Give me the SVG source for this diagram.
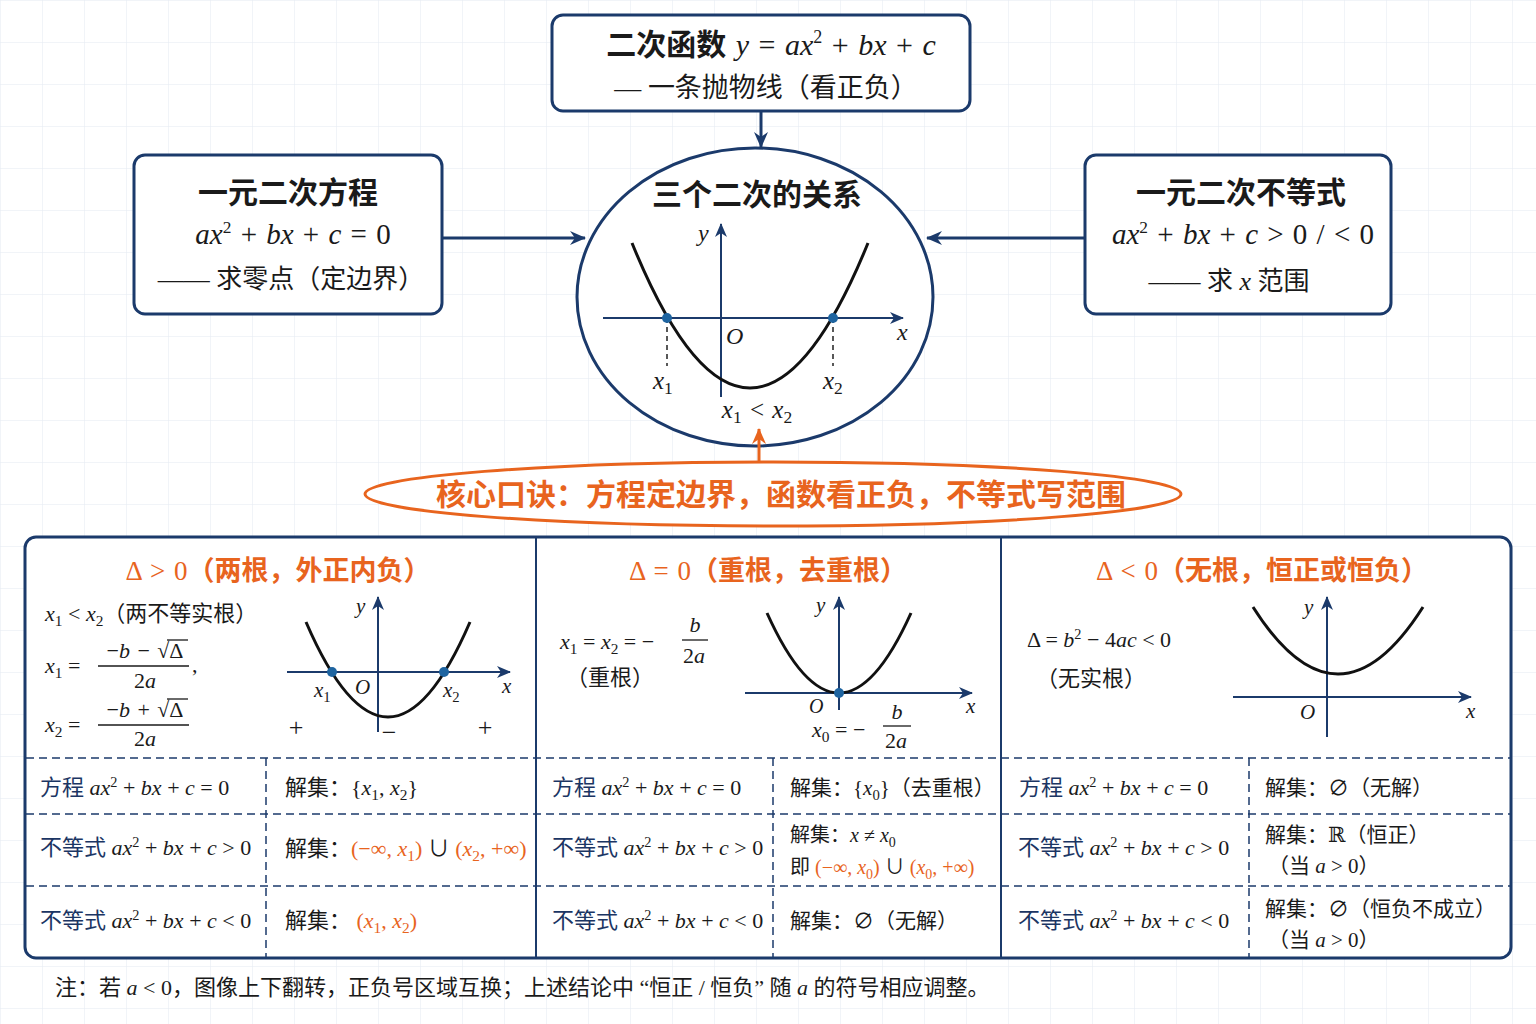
<svg xmlns="http://www.w3.org/2000/svg" width="1536" height="1024" viewBox="0 0 1536 1024">
<defs>
<pattern id="grid" width="42" height="42" patternUnits="userSpaceOnUse"><path d="M42 0 L0 0 0 42" fill="none" stroke="#e4e9f1" stroke-width="1"/></pattern>
<marker id="ah" viewBox="0 0 16 14" refX="15" refY="7" markerWidth="16" markerHeight="14" markerUnits="userSpaceOnUse" orient="auto"><path d="M0,0 L16,7 L0,14 L5,7 z" fill="#1b3a6b"/></marker>
<marker id="aho" viewBox="0 0 16 14" refX="15" refY="7" markerWidth="16" markerHeight="14" markerUnits="userSpaceOnUse" orient="auto"><path d="M0,0 L16,7 L0,14 L5,7 z" fill="#e8641e"/></marker>
<marker id="ax" viewBox="0 0 14 12" refX="13" refY="6" markerWidth="14" markerHeight="12" markerUnits="userSpaceOnUse" orient="auto"><path d="M0,0 L14,6 L0,12 L4,6 z" fill="#1b3a6b"/></marker>
</defs>
<style>
.t{font-family:"Liberation Serif","Noto Sans CJK SC","DejaVu Serif",serif;fill:#1a1a1a}
.i{font-style:italic}
.b{font-weight:bold}
.o{fill:#e8641e}
.k{fill:#1a1a1a}
.nv{fill:#1b3563}
.box{fill:#ffffff;stroke:#1b3a6b;stroke-width:3}
.conn{stroke:#1b3a6b;stroke-width:3;fill:none}
.axis{stroke:#1b3a6b;stroke-width:2;fill:none}
.curve{stroke:#111111;stroke-width:3;fill:none}
.dash{stroke:#1b3a6b;stroke-width:1.5;stroke-dasharray:8 5;fill:none}
.vd{stroke:#222;stroke-width:1.5;stroke-dasharray:5 4;fill:none}
.dot{fill:#1e64a0}
.mid{text-anchor:middle}
.w{word-spacing:2px}
</style>
<rect width="1536" height="1024" fill="#ffffff"/>
<rect width="1536" height="1024" fill="url(#grid)"/>

<g id="node-function">
<rect class="box" x="552" y="15" width="418" height="96" rx="11"/>
<text class="t mid w" x="771" y="55" font-size="30"><tspan class="b">二次函数</tspan>  <tspan class="i">y</tspan> = <tspan class="i">ax</tspan><tspan font-size="60%" dy="-12">2</tspan><tspan dy="12"> + </tspan><tspan class="i">bx</tspan> + <tspan class="i">c</tspan></text>
<text class="t mid" x="766" y="97" font-size="27">— 一条抛物线（看正负）</text>
</g>

<g id="node-equation">
<rect class="box" x="134" y="155" width="308" height="159" rx="11"/>
<text class="t mid b" x="288" y="203" font-size="30">一元二次方程</text>
<text class="t mid w" x="293" y="244" font-size="29"><tspan class="i">ax</tspan><tspan font-size="60%" dy="-11">2</tspan><tspan dy="11"> + </tspan><tspan class="i">bx</tspan> + <tspan class="i">c</tspan> = 0</text>
<text class="t mid" x="291" y="288" font-size="26">—— 求零点（定边界）</text>
</g>

<g id="node-inequality">
<rect class="box" x="1085" y="155" width="306" height="159" rx="11"/>
<text class="t mid b" x="1241" y="203" font-size="30">一元二次不等式</text>
<text class="t mid w" x="1243" y="244" font-size="29"><tspan class="i">ax</tspan><tspan font-size="60%" dy="-11">2</tspan><tspan dy="11"> + </tspan><tspan class="i">bx</tspan> + <tspan class="i">c</tspan> &gt; 0 / &lt; 0</text>
<text class="t mid" x="1229" y="290" font-size="26">—— 求 <tspan class="i">x</tspan> 范围</text>
</g>

<g id="node-relation">
<ellipse class="box" cx="755" cy="297" rx="178" ry="149"/>
<text class="t mid b" x="757" y="205" font-size="30">三个二次的关系</text>
<line class="axis" x1="603" y1="318" x2="903" y2="318" marker-end="url(#ax)"/>
<line class="axis" x1="721" y1="397" x2="721" y2="224" marker-end="url(#ax)"/>
<path class="curve" d="M632,243 Q750,533 868,243"/>
<line class="vd" x1="667" y1="318" x2="667" y2="366"/>
<line class="vd" x1="833" y1="318" x2="833" y2="366"/>
<circle class="dot" cx="667" cy="318" r="5"/>
<circle class="dot" cx="833" cy="318" r="5"/>
<text class="t i" x="698" y="241" font-size="24">y</text>
<text class="t i" x="726" y="344" font-size="24">O</text>
<text class="t i" x="897" y="340" font-size="24">x</text>
<text class="t" x="653" y="389" font-size="25"><tspan class="i">x</tspan><tspan font-size="70%" dy="5">1</tspan></text>
<text class="t" x="823" y="389" font-size="25"><tspan class="i">x</tspan><tspan font-size="70%" dy="5">2</tspan></text>
<text class="t mid w" x="757" y="418" font-size="25"><tspan class="i">x</tspan><tspan font-size="70%" dy="5">1</tspan><tspan dy="-5"> &lt; </tspan><tspan class="i">x</tspan><tspan font-size="70%" dy="5">2</tspan></text>
</g>

<g id="node-motto">
<ellipse cx="773" cy="494" rx="408" ry="32" fill="#ffffff" stroke="#e8641e" stroke-width="3"/>
<text class="t mid b o" x="781" y="505" font-size="30">核心口诀：方程定边界，函数看正负，不等式写范围</text>
</g>

<g id="node-table">
<rect class="box" x="25" y="537" width="1486" height="421" rx="11"/>
<line x1="536" y1="537" x2="536" y2="958" stroke="#1b3a6b" stroke-width="2"/>
<line x1="1001" y1="537" x2="1001" y2="958" stroke="#1b3a6b" stroke-width="2"/>
<line class="dash" x1="26" y1="758" x2="1510" y2="758"/>
<line class="dash" x1="26" y1="814" x2="1510" y2="814"/>
<line class="dash" x1="26" y1="886" x2="1510" y2="886"/>
<line class="dash" x1="266" y1="758" x2="266" y2="957"/>
<line class="dash" x1="773" y1="758" x2="773" y2="957"/>
<line class="dash" x1="1249" y1="758" x2="1249" y2="957"/>
</g>

<g id="node-case-positive">
<text class="t mid o w" x="278" y="580" font-size="27">Δ &gt; 0<tspan class="b">（两根，外正内负）</tspan></text>
<text class="t" x="45" y="621" font-size="22"><tspan class="i">x</tspan><tspan font-size="70%" dy="5">1</tspan><tspan dy="-5"> &lt; </tspan><tspan class="i">x</tspan><tspan font-size="70%" dy="5">2</tspan><tspan dy="-5">（两不等实根）</tspan></text>
<text class="t" x="45" y="673" font-size="22"><tspan class="i">x</tspan><tspan font-size="70%" dy="5">1</tspan><tspan dy="-5"> =</tspan></text>
<text class="t mid w" x="145" y="658" font-size="22">−<tspan class="i">b</tspan> − √Δ</text>
<line x1="167" y1="640" x2="188" y2="640" stroke="#1a1a1a" stroke-width="1.3"/>
<line x1="98" y1="666" x2="189" y2="666" stroke="#1a1a1a" stroke-width="1.3"/>
<text class="t mid" x="145" y="688" font-size="22">2<tspan class="i">a</tspan></text>
<text class="t" x="192" y="672" font-size="22">,</text>
<text class="t" x="45" y="732" font-size="22"><tspan class="i">x</tspan><tspan font-size="70%" dy="5">2</tspan><tspan dy="-5"> =</tspan></text>
<text class="t mid w" x="145" y="717" font-size="22">−<tspan class="i">b</tspan> + √Δ</text>
<line x1="167" y1="699" x2="188" y2="699" stroke="#1a1a1a" stroke-width="1.3"/>
<line x1="98" y1="725" x2="189" y2="725" stroke="#1a1a1a" stroke-width="1.3"/>
<text class="t mid" x="145" y="746" font-size="22">2<tspan class="i">a</tspan></text>
<line class="axis" x1="287" y1="672" x2="510" y2="672" marker-end="url(#ax)"/>
<line class="axis" x1="378" y1="732" x2="378" y2="597" marker-end="url(#ax)"/>
<path class="curve" d="M306,622 Q388,812 470,622"/>
<circle class="dot" cx="332" cy="672" r="5"/>
<circle class="dot" cx="444" cy="672" r="5"/>
<text class="t i" x="356" y="613" font-size="21">y</text>
<text class="t i" x="502" y="693" font-size="21">x</text>
<text class="t i" x="355" y="694" font-size="21">O</text>
<text class="t" x="314" y="697" font-size="21"><tspan class="i">x</tspan><tspan font-size="70%" dy="5">1</tspan></text>
<text class="t" x="443" y="697" font-size="21"><tspan class="i">x</tspan><tspan font-size="70%" dy="5">2</tspan></text>
<text class="t mid" x="296" y="736" font-size="26">+</text>
<text class="t mid" x="389" y="741" font-size="26">−</text>
<text class="t mid" x="485" y="736" font-size="26">+</text>
<text class="t" x="40" y="795" font-size="22"><tspan class="nv">方程</tspan> <tspan class="i">ax</tspan><tspan font-size="65%" dy="-8">2</tspan><tspan dy="8"> + </tspan><tspan class="i">bx</tspan> + <tspan class="i">c</tspan> = 0</text>
<text class="t" x="285" y="795" font-size="22">解集：{<tspan class="i">x</tspan><tspan font-size="70%" dy="5">1</tspan><tspan dy="-5">, </tspan><tspan class="i">x</tspan><tspan font-size="70%" dy="5">2</tspan><tspan dy="-5">}</tspan></text>
<text class="t" x="40" y="855" font-size="22"><tspan class="nv">不等式</tspan> <tspan class="i">ax</tspan><tspan font-size="65%" dy="-8">2</tspan><tspan dy="8"> + </tspan><tspan class="i">bx</tspan> + <tspan class="i">c</tspan> &gt; 0</text>
<text class="t" x="285" y="856" font-size="22">解集：<tspan class="o">(−∞, <tspan class="i">x</tspan><tspan font-size="70%" dy="5">1</tspan><tspan dy="-5">)</tspan></tspan><tspan class="k"> ∪ </tspan><tspan class="o">(<tspan class="i">x</tspan><tspan font-size="70%" dy="5">2</tspan><tspan dy="-5">, +∞)</tspan></tspan></text>
<text class="t" x="40" y="928" font-size="22"><tspan class="nv">不等式</tspan> <tspan class="i">ax</tspan><tspan font-size="65%" dy="-8">2</tspan><tspan dy="8"> + </tspan><tspan class="i">bx</tspan> + <tspan class="i">c</tspan> &lt; 0</text>
<text class="t" x="285" y="928" font-size="22">解集： <tspan class="o">(<tspan class="i">x</tspan><tspan font-size="70%" dy="5">1</tspan><tspan dy="-5">, </tspan><tspan class="i">x</tspan><tspan font-size="70%" dy="5">2</tspan><tspan dy="-5">)</tspan></tspan></text>
</g>

<g id="node-case-zero">
<text class="t mid o w" x="768" y="580" font-size="27">Δ = 0<tspan class="b">（重根，去重根）</tspan></text>
<text class="t" x="560" y="649" font-size="22"><tspan class="i">x</tspan><tspan font-size="70%" dy="5">1</tspan><tspan dy="-5"> = </tspan><tspan class="i">x</tspan><tspan font-size="70%" dy="5">2</tspan><tspan dy="-5"> = −</tspan></text>
<text class="t mid i" x="695" y="632" font-size="22">b</text>
<line x1="682" y1="640" x2="708" y2="640" stroke="#1a1a1a" stroke-width="1.3"/>
<text class="t mid" x="694" y="663" font-size="22">2<tspan class="i">a</tspan></text>
<text class="t" x="566" y="685" font-size="22">（重根）</text>
<line class="axis" x1="745" y1="693" x2="972" y2="693" marker-end="url(#ax)"/>
<line class="axis" x1="839" y1="710" x2="839" y2="597" marker-end="url(#ax)"/>
<path class="curve" d="M767,613 Q839,773 911,613"/>
<circle class="dot" cx="839" cy="693" r="5"/>
<text class="t i" x="816" y="612" font-size="21">y</text>
<text class="t i" x="809" y="713" font-size="20">O</text>
<text class="t i" x="966" y="713" font-size="21">x</text>
<text class="t" x="812" y="737" font-size="22"><tspan class="i">x</tspan><tspan font-size="70%" dy="5">0</tspan><tspan dy="-5"> = −</tspan></text>
<text class="t mid i" x="897" y="719" font-size="22">b</text>
<line x1="883" y1="726" x2="911" y2="726" stroke="#1a1a1a" stroke-width="1.3"/>
<text class="t mid" x="896" y="748" font-size="22">2<tspan class="i">a</tspan></text>
<text class="t" x="552" y="795" font-size="22"><tspan class="nv">方程</tspan> <tspan class="i">ax</tspan><tspan font-size="65%" dy="-8">2</tspan><tspan dy="8"> + </tspan><tspan class="i">bx</tspan> + <tspan class="i">c</tspan> = 0</text>
<text class="t" x="790" y="795" font-size="21">解集：{<tspan class="i">x</tspan><tspan font-size="70%" dy="5">0</tspan><tspan dy="-5">}（去重根）</tspan></text>
<text class="t" x="552" y="855" font-size="22"><tspan class="nv">不等式</tspan> <tspan class="i">ax</tspan><tspan font-size="65%" dy="-8">2</tspan><tspan dy="8"> + </tspan><tspan class="i">bx</tspan> + <tspan class="i">c</tspan> &gt; 0</text>
<text class="t" x="790" y="842" font-size="20">解集：<tspan class="i">x</tspan> ≠ <tspan class="i">x</tspan><tspan font-size="70%" dy="5">0</tspan></text>
<text class="t" x="790" y="874" font-size="20">即 <tspan class="o">(−∞, <tspan class="i">x</tspan><tspan font-size="70%" dy="5">0</tspan><tspan dy="-5">)</tspan></tspan><tspan class="k"> ∪ </tspan><tspan class="o">(<tspan class="i">x</tspan><tspan font-size="70%" dy="5">0</tspan><tspan dy="-5">, +∞)</tspan></tspan></text>
<text class="t" x="552" y="928" font-size="22"><tspan class="nv">不等式</tspan> <tspan class="i">ax</tspan><tspan font-size="65%" dy="-8">2</tspan><tspan dy="8"> + </tspan><tspan class="i">bx</tspan> + <tspan class="i">c</tspan> &lt; 0</text>
<text class="t" x="790" y="928" font-size="21">解集：∅（无解）</text>
</g>

<g id="node-case-negative">
<text class="t mid o w" x="1262" y="580" font-size="27">Δ &lt; 0<tspan class="b">（无根，恒正或恒负）</tspan></text>
<text class="t" x="1027" y="647" font-size="22">Δ = <tspan class="i">b</tspan><tspan font-size="65%" dy="-8">2</tspan><tspan dy="8"> − 4</tspan><tspan class="i">ac</tspan> &lt; 0</text>
<text class="t" x="1036" y="686" font-size="22">（无实根）</text>
<line class="axis" x1="1233" y1="697" x2="1471" y2="697" marker-end="url(#ax)"/>
<line class="axis" x1="1327" y1="737" x2="1327" y2="597" marker-end="url(#ax)"/>
<path class="curve" d="M1253,607 Q1338,741 1423,607"/>
<text class="t i" x="1304" y="614" font-size="21">y</text>
<text class="t i" x="1300" y="719" font-size="21">O</text>
<text class="t i" x="1466" y="718" font-size="21">x</text>
<text class="t" x="1019" y="795" font-size="22"><tspan class="nv">方程</tspan> <tspan class="i">ax</tspan><tspan font-size="65%" dy="-8">2</tspan><tspan dy="8"> + </tspan><tspan class="i">bx</tspan> + <tspan class="i">c</tspan> = 0</text>
<text class="t" x="1265" y="795" font-size="21">解集：∅（无解）</text>
<text class="t" x="1018" y="855" font-size="22"><tspan class="nv">不等式</tspan> <tspan class="i">ax</tspan><tspan font-size="65%" dy="-8">2</tspan><tspan dy="8"> + </tspan><tspan class="i">bx</tspan> + <tspan class="i">c</tspan> &gt; 0</text>
<text class="t" x="1265" y="842" font-size="21">解集：ℝ（恒正）</text>
<text class="t" x="1268" y="873" font-size="21">（当 <tspan class="i">a</tspan> &gt; 0）</text>
<text class="t" x="1018" y="928" font-size="22"><tspan class="nv">不等式</tspan> <tspan class="i">ax</tspan><tspan font-size="65%" dy="-8">2</tspan><tspan dy="8"> + </tspan><tspan class="i">bx</tspan> + <tspan class="i">c</tspan> &lt; 0</text>
<text class="t" x="1265" y="916" font-size="21">解集：∅（恒负不成立）</text>
<text class="t" x="1268" y="947" font-size="21">（当 <tspan class="i">a</tspan> &gt; 0）</text>
</g>

<g id="note">
<text class="t" x="55" y="995" font-size="22">注：若 <tspan class="i">a</tspan> &lt; 0，图像上下翻转，正负号区域互换；上述结论中 “恒正 / 恒负” 随 <tspan class="i">a</tspan> 的符号相应调整。</text>
</g>

<g id="connectors">
<line class="conn" x1="761" y1="112" x2="761" y2="147" marker-end="url(#ah)"/>
<line class="conn" x1="443" y1="238" x2="585" y2="238" marker-end="url(#ah)"/>
<line class="conn" x1="1084" y1="238" x2="927" y2="238" marker-end="url(#ah)"/>
<line x1="759" y1="462" x2="759" y2="429" stroke="#e8641e" stroke-width="3" marker-end="url(#aho)"/>
</g>
</svg>
